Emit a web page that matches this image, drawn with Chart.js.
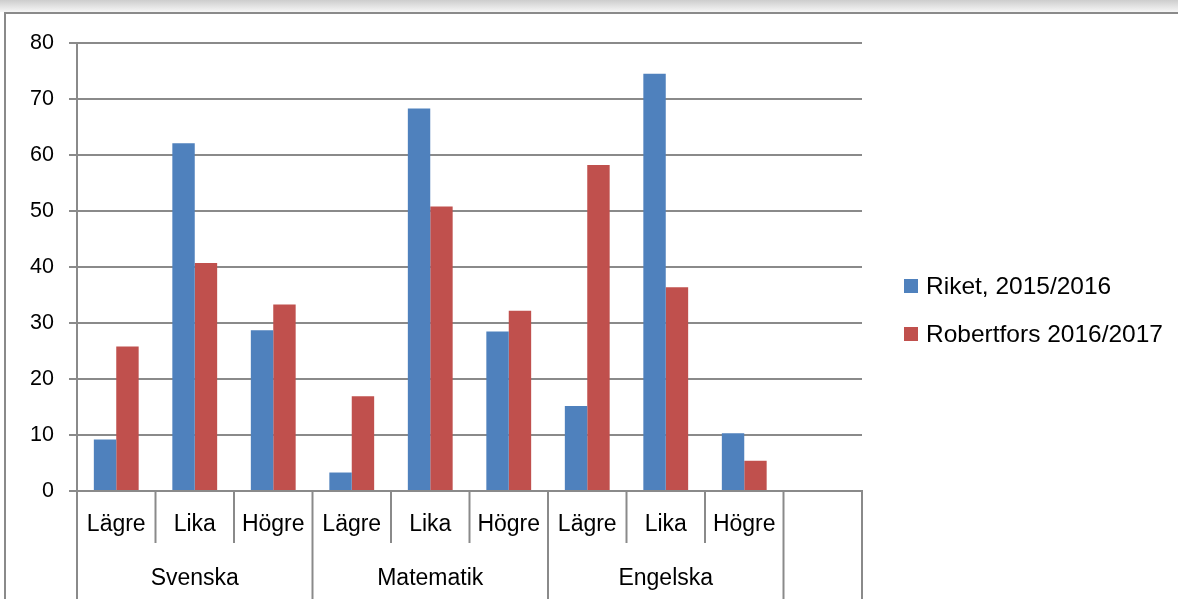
<!DOCTYPE html>
<html>
<head>
<meta charset="utf-8">
<script src="https://cdn.jsdelivr.net/npm/chart.js@4.4.1/dist/chart.umd.min.js"></script>
<style>
    html, body { margin: 0; padding: 0; background: #fff; overflow: hidden; }
    #wrap { position: relative; width: 1178px; height: 599px; }
    #shade { position: absolute; left: 0; top: 0; width: 1178px; height: 12px;
             background: linear-gradient(#cdcdcd, #f6f6f6); }
    #frame { position: absolute; left: 4px; top: 12px; width: 1200px; height: 620px;
             border: 2px solid #8a8a8a; box-sizing: border-box; }
    #chart { position: absolute; left: 0; top: 0; }
</style>
</head>
<body>
<div id="wrap">
    <div id="shade"></div>
    <div id="frame"></div>
    <canvas id="chart" width="1178" height="599"></canvas>
</div>
<script>
const subjects = ['Svenska', 'Matematik', 'Engelska', ''];
const levels = ['Lägre', 'Lika', 'Högre', 'Lägre', 'Lika', 'Högre', 'Lägre', 'Lika', 'Högre', ''];
const riket = [9.2, 62.1, 28.7, 3.3, 68.3, 28.5, 15.2, 74.5, 10.3, null];
const robertfors = [25.8, 40.7, 33.3, 16.9, 50.8, 32.2, 58.2, 36.4, 5.4, null];
const seriesNames = ['Riket, 2015/2016', 'Robertfors 2016/2017'];
const groupSizes = [3, 3, 3, 1];

const axisGray = '#8a8a8a';
const font = 'Liberation Sans, Arial, sans-serif';

// separators, subject labels and legend under/next to the plot
const extras = {
    id: 'extras',
    afterDraw(c) {
        const ctx = c.ctx;
        const x = c.scales.x;
        const bottom = c.chartArea.bottom;
        const half = (x.getPixelForValue(1) - x.getPixelForValue(0)) / 2;
        const edge = i => x.getPixelForValue(i) - half;

        ctx.save();
        ctx.strokeStyle = axisGray;
        ctx.lineWidth = 2;

        // long lines at group starts
        let starts = [0];
        groupSizes.forEach(n => starts.push(starts[starts.length - 1] + n));
        for (let i = 0; i <= levels.length; i++) {
            const long = starts.includes(i);
            ctx.beginPath();
            ctx.moveTo(edge(i), bottom);
            ctx.lineTo(edge(i), long ? 600 : 543);
            ctx.stroke();
        }

        ctx.fillStyle = '#000';
        ctx.font = '23px ' + font;
        ctx.textAlign = 'center';
        ctx.textBaseline = 'middle';
        subjects.forEach((s, g) => {
            const mid = (edge(starts[g]) + edge(starts[g + 1])) / 2;
            ctx.fillText(s, mid, 579);
        });

        // legend
        const colors = c.data.datasets.map(d => d.backgroundColor);
        ctx.font = '24.5px ' + font;
        ctx.textAlign = 'left';
        seriesNames.forEach((name, i) => {
            const y = 286 + i * 48;
            ctx.fillStyle = colors[i];
            ctx.fillRect(904, y - 7, 14, 14);
            ctx.fillStyle = '#000';
            ctx.fillText(name, 926, y + 1);
        });
        ctx.restore();
    }
};

new Chart(document.getElementById('chart'), {
    type: 'bar',
    data: {
        labels: levels,
        datasets: [
            { label: seriesNames[0], data: riket, backgroundColor: '#4f81bd' },
            { label: seriesNames[1], data: robertfors, backgroundColor: '#c0504d' }
        ]
    },
    options: {
        responsive: false,
        animation: false,
        layout: { padding: { left: 0, top: 43, right: 316, bottom: 0 } },
        datasets: { bar: { categoryPercentage: 0.571, barPercentage: 1.0 } },
        plugins: { legend: { display: false }, tooltip: { enabled: false } },
        scales: {
            x: {
                afterFit(s) { s.height = 108; },
                grid: { display: false, drawTicks: false },
                border: { display: true, color: axisGray, width: 2 },
                ticks: { color: '#000', font: { size: 23, family: font }, padding: 20, maxRotation: 0, autoSkip: false }
            },
            y: {
                min: 0,
                max: 80,
                afterFit(s) { s.width = 77; },
                grid: { color: axisGray, lineWidth: 2, tickLength: 8 },
                border: { display: true, color: axisGray, width: 2 },
                ticks: { stepSize: 10, color: '#000', font: { size: 21.5, family: font }, padding: 15 }
            }
        }
    },
    plugins: [extras]
});
</script>
</body>
</html>
